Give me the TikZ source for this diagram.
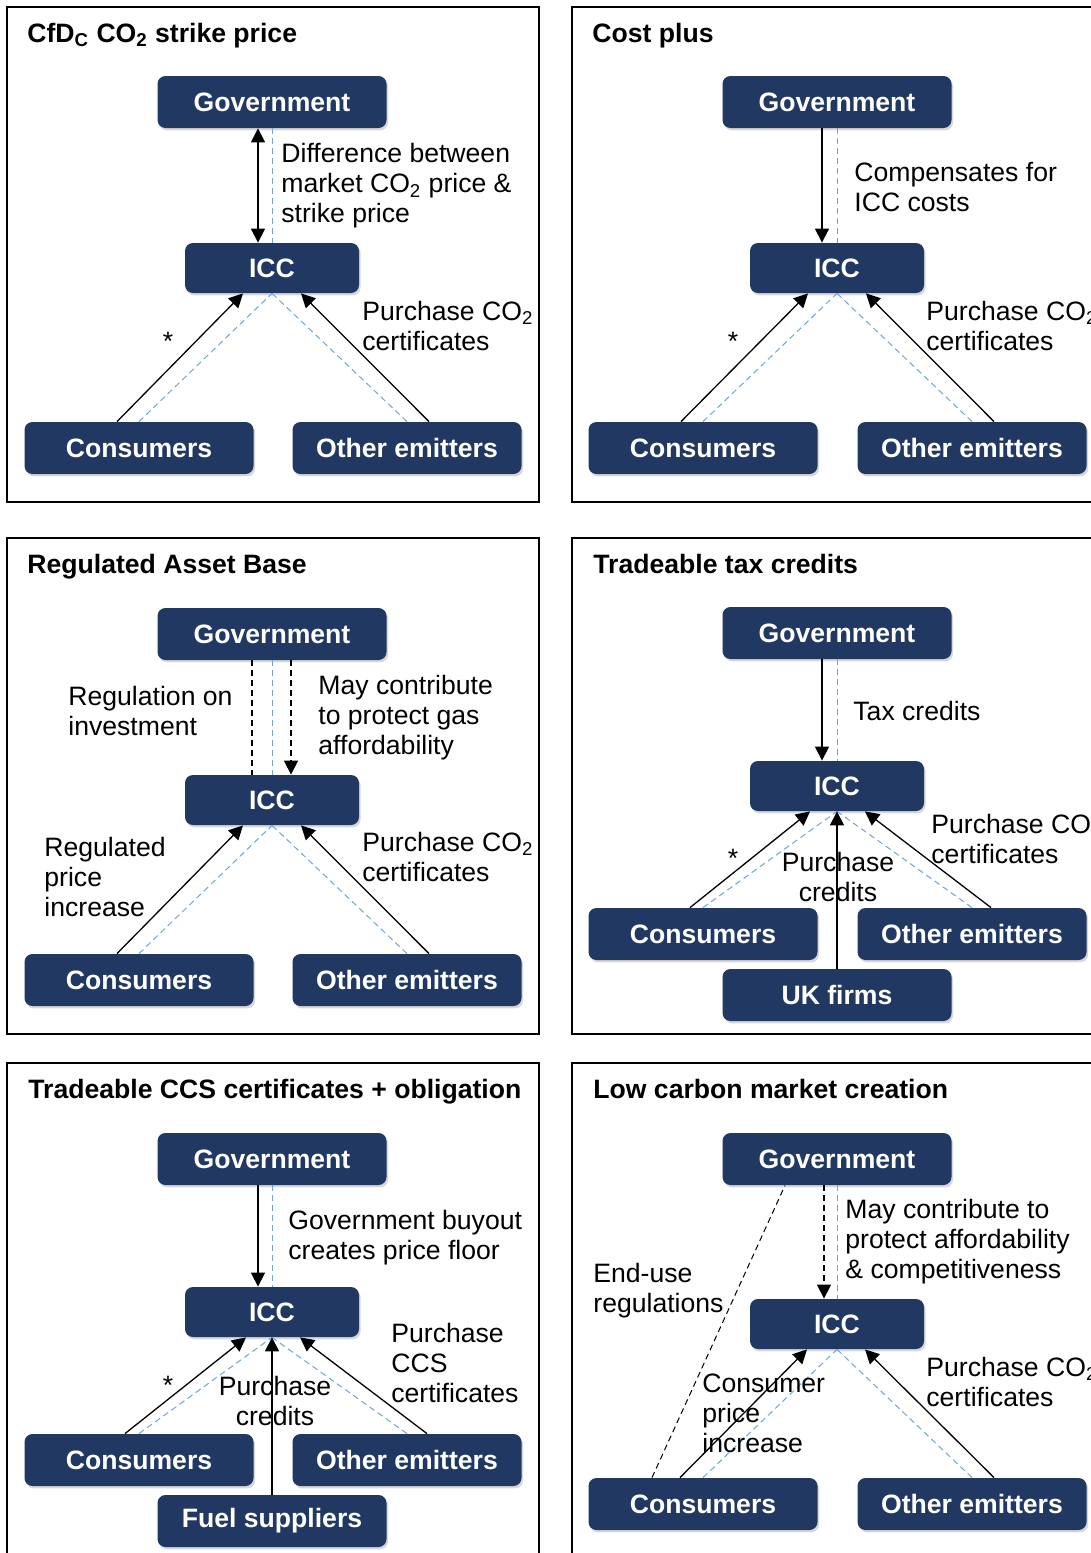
\documentclass[tikz,border=0pt]{standalone}
\usepackage{fontspec}
\setmainfont{Liberation Sans}
\usetikzlibrary{arrows.meta,calc,shadows}
\definecolor{boxblue}{RGB}{33,56,99}
\definecolor{linkblue}{RGB}{110,165,220}

\begin{document}
\begin{tikzpicture}[x=0.5pt,y=-0.5pt,
    >={Triangle[length=7pt,width=7pt]},
    every node/.style={font=\fontsize{13.3}{15}\selectfont, inner sep=0pt},
    actor/.style={fill=boxblue, text=white, rounded corners=4pt,
      minimum width=114.5pt, minimum height=26pt,
      font=\fontsize{13.3}{15}\selectfont\bfseries,
      drop shadow={shadow xshift=0.8pt, shadow yshift=-1.2pt, opacity=0.3}},
    iccbox/.style={actor, minimum width=87pt, minimum height=25pt},
    heading/.style={anchor=base west, font=\fontsize{13.3}{15}\selectfont\bfseries},
    note/.style={anchor=west, align=left},
    flow/.style={->, line width=0.65pt},
    dflow/.style={flow, dash pattern=on 3pt off 2pt},
    link/.style={linkblue, dash pattern=on 3pt off 2pt, line width=0.5pt},
    panel/.style={line width=1pt}]
  \useasboundingbox (0,0) rectangle (1091,1553);
  \clip (0,0) rectangle (1091,1553);
  \fill[white] (0,0) rectangle (1091,1553);

  % frames
  \draw[panel] (7,7) rectangle (539,502);
  \draw[panel] (572,7) rectangle (1100,502);
  \draw[panel] (7,538) rectangle (539,1034);
  \draw[panel] (572,538) rectangle (1100,1034);
  \draw[panel] (7,1063) rectangle (539,1570);
  \draw[panel] (572,1063) rectangle (1100,1570);

  % CfD
  \node[heading] (t1) at (27,42) {CfD\textsubscript{C} CO\textsubscript{2} strike price};
  \node[actor] (g1) at (272,102) {Government};
  \node[iccbox] (icc1) at (272,268) {ICC};
  \node[actor] (cons1) at (139,448) {Consumers};
  \node[actor] (oth1) at (407,448) {Other emitters};
  \draw[link] (g1.south) -- (icc1.north);
  \draw[link] (cons1.north) -- (icc1.south);
  \draw[link] (oth1.north) -- (icc1.south);
  \draw[flow,<->] ($(g1.south)+(-14,0)$) -- ($(icc1.north)+(-14,0)$);
  \draw[flow] ($(cons1.north)+(-22,0)$) -- ($(icc1.south)+(-29,0)$);
  \draw[flow] ($(oth1.north)+(22,0)$) -- ($(icc1.south)+(29,0)$);
  \node[note] (l1a) at (281,186) {Difference between\\market CO\textsubscript{2} price \&\\strike price};
  \node (s1) at (168,341) {*};
  \node[note] (l1b) at (362,326) {Purchase CO\textsubscript{2}\\certificates};

  % Cost plus
  \node[heading] (t2) at (592,42) {Cost plus};
  \node[actor] (g2) at (837,102) {Government};
  \node[iccbox] (icc2) at (837,268) {ICC};
  \node[actor] (cons2) at (703,448) {Consumers};
  \node[actor] (oth2) at (972,448) {Other emitters};
  \draw[link] (g2.south) -- (icc2.north);
  \draw[link] (cons2.north) -- (icc2.south);
  \draw[link] (oth2.north) -- (icc2.south);
  \draw[flow] ($(g2.south)+(-15,0)$) -- ($(icc2.north)+(-15,0)$);
  \draw[flow] ($(cons2.north)+(-22,0)$) -- ($(icc2.south)+(-29,0)$);
  \draw[flow] ($(oth2.north)+(22,0)$) -- ($(icc2.south)+(29,0)$);
  \node[note] (l2a) at (854,187) {Compensates for\\ICC costs};
  \node (s2) at (733,341) {*};
  \node[note] (l2b) at (926,326) {Purchase CO\textsubscript{2}\\certificates};

  % RAB
  \node[heading] (t3) at (27,573) {Regulated Asset Base};
  \node[actor] (g3) at (272,634) {Government};
  \node[iccbox] (icc3) at (272,800) {ICC};
  \node[actor] (cons3) at (139,980) {Consumers};
  \node[actor] (oth3) at (407,980) {Other emitters};
  \draw[link] (g3.south) -- (icc3.north);
  \draw[link] (cons3.north) -- (icc3.south);
  \draw[link] (oth3.north) -- (icc3.south);
  \draw[dflow,-] ($(g3.south)+(-20,0)$) -- ($(icc3.north)+(-20,0)$);
  \draw[dflow] ($(g3.south)+(19,0)$) -- ($(icc3.north)+(19,0)$);
  \draw[flow] ($(cons3.north)+(-22,0)$) -- ($(icc3.south)+(-29,0)$);
  \draw[flow] ($(oth3.north)+(22,0)$) -- ($(icc3.south)+(29,0)$);
  \node[note] (l3a) at (68,711) {Regulation on\\investment};
  \node[note] (l3b) at (318,718) {May contribute\\to protect gas\\affordability};
  \node[note] (l3c) at (44,877) {Regulated\\price\\increase};
  \node[note] (l3d) at (362,857) {Purchase CO\textsubscript{2}\\certificates};

  % Tax credits
  \node[heading] (t4) at (593,573) {Tradeable tax credits};
  \node[actor] (g4) at (837,633) {Government};
  \node[iccbox] (icc4) at (837,786) {ICC};
  \node[actor] (cons4) at (703,934) {Consumers};
  \node[actor] (oth4) at (972,934) {Other emitters};
  \node[actor] (uk4) at (837,995) {UK firms};
  \draw[link] (g4.south) -- (icc4.north);
  \draw[link] (cons4.north) -- (icc4.south);
  \draw[link] (oth4.north) -- (icc4.south);
  \draw[flow] ($(g4.south)+(-15,0)$) -- ($(icc4.north)+(-15,0)$);
  \draw[flow] ($(cons4.north)+(-13,0)$) -- ($(icc4.south)+(-27,0)$);
  \draw[flow] ($(oth4.north)+(19,0)$) -- ($(icc4.south)+(28,0)$);
  \draw[flow] (uk4.north) -- (icc4.south);
  \node[note] (l4a) at (853,711) {Tax credits};
  \node (s4) at (733,858) {*};
  \node[align=center] (l4b) at (838,877) {Purchase\\credits};
  \node[note] (l4c) at (931,839) {Purchase CO\textsubscript{2}\\certificates};

  % CCS certificates
  \node[heading] (t5) at (28,1098) {Tradeable CCS certificates + obligation};
  \node[actor] (g5) at (272,1159) {Government};
  \node[iccbox] (icc5) at (272,1312) {ICC};
  \node[actor] (cons5) at (139,1460) {Consumers};
  \node[actor] (oth5) at (407,1460) {Other emitters};
  \node[actor] (fuel5) at (272,1521) {Fuel suppliers};
  \draw[link] (g5.south) -- (icc5.north);
  \draw[link] (cons5.north) -- (icc5.south);
  \draw[link] (oth5.north) -- (icc5.south);
  \draw[flow] ($(g5.south)+(-14,0)$) -- ($(icc5.north)+(-14,0)$);
  \draw[flow] ($(cons5.north)+(-14,0)$) -- ($(icc5.south)+(-26,0)$);
  \draw[flow] ($(oth5.north)+(20,0)$) -- ($(icc5.south)+(28,0)$);
  \draw[flow] (fuel5.north) -- (icc5.south);
  \node[note] (l5a) at (288,1238) {Government buyout\\creates price floor};
  \node (s5) at (168,1385) {*};
  \node[align=center] (l5b) at (275,1401) {Purchase\\credits};
  \node[note] (l5c) at (391,1363) {Purchase\\CCS\\certificates};

  % Low carbon market
  \node[heading] (t6) at (593,1098) {Low carbon market creation};
  \node[actor] (g6) at (837,1159) {Government};
  \node[iccbox] (icc6) at (837,1324) {ICC};
  \node[actor] (cons6) at (703,1504) {Consumers};
  \node[actor] (oth6) at (972,1504) {Other emitters};
  \draw[link] (g6.south) -- (icc6.north);
  \draw[link] (cons6.north) -- (icc6.south);
  \draw[link] (oth6.north) -- (icc6.south);
  \draw[dflow,-,line width=0.5pt] ($(cons6.north)+(-51,0)$) -- ($(g6.south)+(-52,0)$);
  \draw[dflow] ($(g6.south)+(-13,0)$) -- ($(icc6.north)+(-13,0)$);
  \draw[flow] ($(cons6.north)+(-23,0)$) -- ($(icc6.south)+(-30,0)$);
  \draw[flow] ($(oth6.north)+(22,0)$) -- ($(icc6.south)+(28,0)$);
  \node[note] (l6a) at (593,1291) {End-use\\regulations};
  \node[note] (l6b) at (845,1242) {May contribute to\\protect affordability\\\& competitiveness};
  \node[note] (l6c) at (702,1413) {Consumer\\price\\increase};
  \node[note] (l6d) at (926,1382) {Purchase CO\textsubscript{2}\\certificates};
\end{tikzpicture}
\end{document}
